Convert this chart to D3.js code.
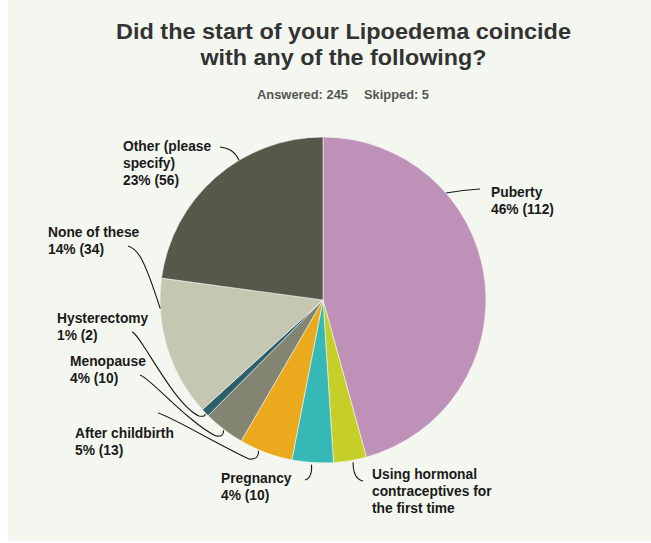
<!DOCTYPE html>
<html>
<head>
<meta charset="utf-8">
<script src="https://cdn.jsdelivr.net/npm/d3@7"></script>
<style>
  html, body { margin: 0; padding: 0; background: #ffffff; }
  svg { display: block; }
  text { font-family: "Liberation Sans", Arial, Helvetica, sans-serif; }
</style>
</head>
<body>
<svg id="chart" width="651" height="543"></svg>
<script>
// ---------- data ----------
const categories = [
  "Puberty",
  "Using hormonal contraceptives for the first time",
  "Pregnancy",
  "After childbirth",
  "Menopause",
  "Hysterectomy",
  "None of these",
  "Other (please specify)"
];
const counts = [112, 8, 10, 13, 10, 2, 34, 56];
const showValue = [true, false, true, true, true, true, true, true];
const titleLines = ["Did the start of your Lipoedema coincide", "with any of the following?"];
const answered = 245;
const skipped = 5;

// ---------- styles / layout ----------
const colors = ["#bf91b8", "#c6cf28", "#35b8b6", "#eba91e", "#838573", "#2c5f6a", "#c5c7b3", "#58584a"];
const labelWrap = [
  ["Puberty"],
  ["Using hormonal", "contraceptives for", "the first time"],
  ["Pregnancy"],
  ["After childbirth"],
  ["Menopause"],
  ["Hysterectomy"],
  ["None of these"],
  ["Other (please", "specify)"]
];
// label anchor (x, first baseline), leader: start point, optional elbow, anchor angle on pie (deg)
const layout = [
  {x: 491, y: 197, p0: [480, 189], ang: 49,  r: 0,  kind: "straight"},
  {x: 372, y: 479, p0: [363, 481], ang: 169.5, r: 2, kind: "hookR"},
  {x: 221, y: 483, p0: [305, 480], ang: 184, r: 2,  kind: "hookL"},
  {x: 75,  y: 438, p0: [158, 413], elbow: [251, 459], ang: 203.2, r: 1, kind: "elbow"},
  {x: 70,  y: 366, p0: [140, 375], elbow: [218, 436], ang: 217.4, r: 1, kind: "elbow"},
  {x: 57,  y: 323, p0: [132, 332], elbow: [201, 416], ang: 226, r: 1, kind: "elbow"},
  {x: 48,  y: 237, p0: [128, 246], ang: 267, r: 0, kind: "none"},
  {x: 123, y: 151, p0: [220, 147], ang: 329, r: 0, kind: "other"}
];
const W = 651, H = 543;
const cx = 323, cy = 300, R = 163;
const lineH = 16.8;

const svg = d3.select("#chart");

// background panel
svg.append("rect").attr("x", 8).attr("y", 0).attr("width", W - 8).attr("height", 541)
  .attr("fill", "#f3f7f0");

// title
const titleG = svg.append("g");
titleG.selectAll("text").data(titleLines).join("text")
  .attr("x", 343.5)
  .attr("y", (d, i) => 39 + i * 26)
  .attr("text-anchor", "middle")
  .attr("font-size", 22.5)
  .attr("font-weight", "bold")
  .attr("fill", "#333333")
  .attr("textLength", (d, i) => i === 0 ? 455 : 286)
  .attr("lengthAdjust", "spacingAndGlyphs")
  .text(d => d);

svg.append("text").attr("x", 257).attr("y", 99.3)
  .attr("font-size", 13).attr("font-weight", "bold").attr("fill", "#555555")
  .attr("textLength", 91).attr("lengthAdjust", "spacingAndGlyphs")
  .text("Answered: " + answered);
svg.append("text").attr("x", 364).attr("y", 99.3)
  .attr("font-size", 13).attr("font-weight", "bold").attr("fill", "#555555")
  .attr("textLength", 65).attr("lengthAdjust", "spacingAndGlyphs")
  .text("Skipped: " + skipped);

// pie
const total = d3.sum(counts);
const pie = d3.pie().sort(null).value(d => d)(counts);
const arc = d3.arc().innerRadius(0).outerRadius(R);
const pieG = svg.append("g").attr("transform", `translate(${cx},${cy})`);
pieG.selectAll("path").data(pie).join("path")
  .attr("d", arc)
  .attr("fill", (d, i) => colors[i])
  .attr("stroke", "#f3f7f0")
  .attr("stroke-width", 0.6);

// leader lines
function edgePoint(angDeg, extra) {
  const a = angDeg * Math.PI / 180;
  return [cx + (R + extra) * Math.sin(a), cy - (R + extra) * Math.cos(a)];
}
const leadG = svg.append("g").attr("fill", "none").attr("stroke", "#1a1a1a").attr("stroke-width", 1.1);
layout.forEach((L, i) => {
  const [x0, y0] = L.p0;
  const [ex, ey] = edgePoint(L.ang, L.r);
  const p = d3.path();
  p.moveTo(x0, y0);
  if (L.kind === "straight") {
    p.quadraticCurveTo((x0 + ex) / 2, (y0 + ey) / 2 - 1, ex, ey);
  } else if (L.kind === "hookR") {
    p.quadraticCurveTo(ex, y0 - 2, ex, ey);
  } else if (L.kind === "hookL") {
    p.quadraticCurveTo(ex + 1, y0 - 2, ex, ey);
  } else if (L.kind === "elbow") {
    const [bx, by] = L.elbow;
    p.bezierCurveTo(x0 + 8, y0 + 1, bx - 28, by - 12, bx - 2, by);
    p.quadraticCurveTo(ex + 1, by + 1, ex, ey);
  } else if (L.kind === "none") {
    p.bezierCurveTo(x0 + 10, y0 + 3, ex - 16, ey - 50, ex, ey);
  } else if (L.kind === "other") {
    p.bezierCurveTo(x0 + 8, y0 + 1, ex - 5, ey - 10, ex, ey);
  }
  leadG.append("path").attr("d", p.toString());
});

// labels
const labG = svg.append("g");
layout.forEach((L, i) => {
  const lines = labelWrap[i].slice();
  if (showValue[i]) {
    lines.push(Math.round(counts[i] / total * 100) + "% (" + counts[i] + ")");
  }
  const t = labG.append("text")
    .attr("font-size", 13.8)
    .attr("font-weight", "bold")
    .attr("fill", "#1a1a1a");
  lines.forEach((ln, j) => {
    t.append("tspan").attr("x", L.x).attr("y", L.y + j * lineH).text(ln);
  });
});
</script>
</body>
</html>
